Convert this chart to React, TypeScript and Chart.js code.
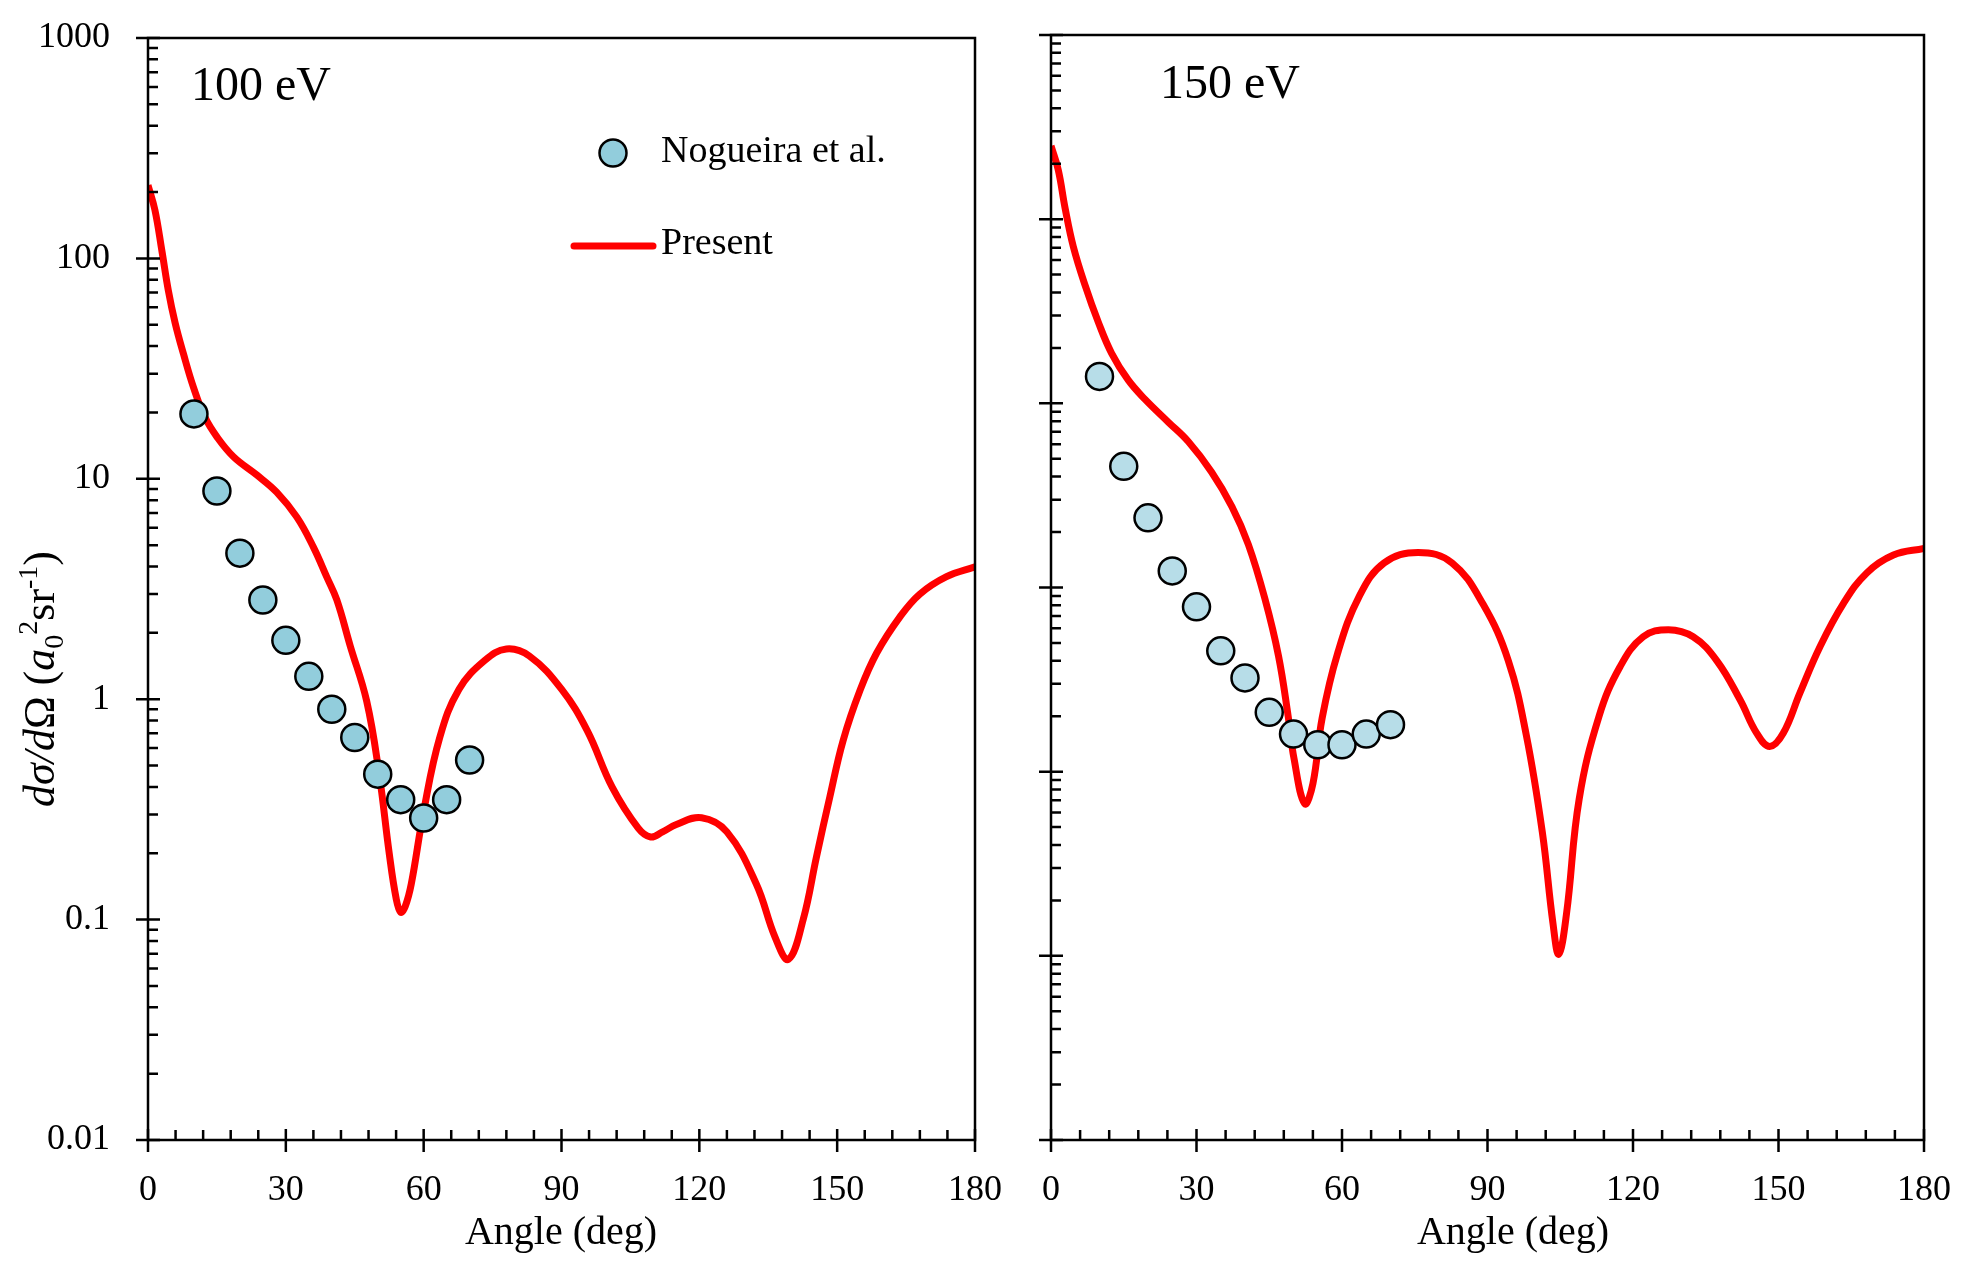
import React, { useEffect, useRef } from 'react';
import { Chart, registerables } from 'chart.js';

Chart.register(...registerables);

const FONT = "'Liberation Serif', 'Times New Roman', serif";
const PAGE_W = 1971;
const PAGE_H = 1280;

// x axis
const angleTicks = [0, 30, 60, 90, 120, 150, 180];

// 100 eV panel
const yTicks100 = [0.01, 0.1, 1, 10, 100, 1000];
const yTickLabels100 = ['0.01', '0.1', '1', '10', '100', '1000'];
const expAngles100 = [10, 15, 20, 25, 30, 35, 40, 45, 50, 55, 60, 65, 70];
const expValues100 = [19.7, 8.8, 4.6, 2.82, 1.85, 1.27, 0.9, 0.67, 0.457, 0.35, 0.289, 0.35, 0.53];
const calcAngles100 = [
  0, 1.5, 3, 4.4, 5.9, 7.7, 9.9, 12.4, 15, 18.6, 23.7, 28, 32.4, 36, 38.9, 41.1, 44, 47.6, 50.3, 52.5,
  54, 55, 56, 57.3, 60, 63.5, 67.7, 73.3, 78, 83, 90, 95.6, 101, 106.7, 109.4, 112, 115, 120.5, 126,
  132.4, 136.5, 139.4, 142.6, 145.5, 148.4, 151.3, 155, 158.6, 163.7, 168, 173.8, 180,
];
const calcValues100 = [
  215, 166, 109, 72, 51, 37, 26, 19, 15.5, 12.6, 10.4, 8.7, 6.7, 4.9, 3.59, 2.82, 1.75, 0.98, 0.46, 0.2,
  0.125, 0.108, 0.115, 0.145, 0.31, 0.67, 1.11, 1.5, 1.69, 1.57, 1.11, 0.72, 0.4, 0.26, 0.237, 0.25, 0.27, 0.29, 0.25,
  0.145, 0.083, 0.066, 0.1, 0.193, 0.36, 0.65, 1.1, 1.62, 2.37, 3.0, 3.6, 3.99,
];

// 150 eV panel
const yTicks150 = [0.001, 0.01, 0.1, 1, 10, 100, 1000];
const yTickLabels150 = ['', '', '', '', '', '', ''];
const expAngles150 = [10, 15, 20, 25, 30, 35, 40, 45, 50, 55, 60, 65, 70];
const expValues150 = [14.0, 4.55, 2.39, 1.23, 0.785, 0.453, 0.323, 0.21, 0.16, 0.14, 0.14, 0.16, 0.18];
const calcAngles150 = [
  0, 1.5, 2.9, 4.6, 7, 9.8, 12.5, 15.9, 19.4, 24.2, 28.3, 33.1, 37.3, 40.7, 44.1, 46.9, 48.9, 50.1, 52.3,
  54, 55.9, 59.1, 63.6, 68.7, 75.7, 82.7, 89.1, 94.3, 98, 101.3, 103.5, 104.7, 106.3, 108.9, 113, 117.3,
  122.1, 127.3, 132.4, 137.3, 142.1, 145.5, 148.2, 151, 154.4, 158.6, 163.4, 168.2, 173.7, 180,
];
const calcValues150 = [
  250, 185, 115, 71, 44, 27.4, 18.7, 13.4, 10.5, 7.9, 6.2, 4.24, 2.75, 1.71, 0.87, 0.426, 0.2, 0.118, 0.067,
  0.086, 0.195, 0.44, 0.9, 1.36, 1.55, 1.36, 0.81, 0.4, 0.158, 0.047, 0.015, 0.0102, 0.017, 0.071, 0.2, 0.37,
  0.54, 0.59, 0.54, 0.4, 0.245, 0.162, 0.137, 0.162, 0.267, 0.48, 0.82, 1.2, 1.5, 1.63,
];

type Part = { t: string; italic?: boolean; small?: boolean; dy?: number };

const yTitleParts: Part[] = [
  { t: 'd', italic: true },
  { t: 'σ', italic: true },
  { t: '/', italic: true },
  { t: 'd', italic: true },
  { t: 'Ω' },
  { t: ' (' },
  { t: 'a', italic: true },
  { t: '0', small: true, dy: 9 },
  { t: '2', small: true, dy: -17 },
  { t: 'sr' },
  { t: '-1', small: true, dy: -17 },
  { t: ')' },
];

const partFont = (p: Part) => `${p.italic ? 'italic ' : ''}${p.small ? 28 : 44}px ${FONT}`;

const framePlugin = {
  id: 'frame',
  afterDatasetsDraw(chart: any, _args: any, opts: any) {
    const { ctx, chartArea: a } = chart;
    const xs = chart.scales.x;
    const ys = chart.scales.y;
    ctx.save();
    ctx.strokeStyle = '#000';
    ctx.lineWidth = 2.5;
    ctx.strokeRect(a.left, a.top, a.right - a.left, a.bottom - a.top);

    ctx.beginPath();
    const lo = Math.round(Math.log10(ys.min));
    const hi = Math.round(Math.log10(ys.max));
    for (let p = lo; p <= hi; p++) {
      for (let m = 1; m <= 9; m++) {
        if (p === hi && m > 1) break;
        const py = ys.getPixelForValue(m * Math.pow(10, p));
        ctx.moveTo(m === 1 ? a.left - 12 : a.left, py);
        ctx.lineTo(a.left + (m === 1 ? 12 : 10), py);
      }
    }
    for (let ang = xs.min; ang <= xs.max; ang += 6) {
      const px = xs.getPixelForValue(ang);
      const major = ang % 30 === 0;
      ctx.moveTo(px, major ? a.bottom + 12 : a.bottom);
      ctx.lineTo(px, a.bottom - (major ? 11 : 10));
    }
    ctx.stroke();

    ctx.fillStyle = '#000';
    ctx.textBaseline = 'alphabetic';
    ctx.textAlign = 'left';
    ctx.font = `48px ${FONT}`;
    ctx.fillText(opts.energy, opts.energyX, opts.energyY);

    ctx.textAlign = 'center';
    ctx.font = `40px ${FONT}`;
    ctx.fillText('Angle (deg)', opts.titleX, 1244);

    if (opts.legend) {
      ctx.beginPath();
      ctx.arc(613, 153, 13.5, 0, Math.PI * 2);
      ctx.fillStyle = opts.dotColor;
      ctx.fill();
      ctx.lineWidth = 2.5;
      ctx.stroke();
      ctx.beginPath();
      ctx.strokeStyle = '#ff0000';
      ctx.lineWidth = 7;
      ctx.lineCap = 'round';
      ctx.moveTo(574, 246);
      ctx.lineTo(653, 246);
      ctx.stroke();
      ctx.fillStyle = '#000';
      ctx.textAlign = 'left';
      ctx.textBaseline = 'middle';
      ctx.font = `38px ${FONT}`;
      ctx.fillText('Nogueira et al.', 661, 152);
      ctx.fillText('Present', 661, 244);
    }

    if (opts.yTitle) {
      ctx.translate(54, 679);
      ctx.rotate(-Math.PI / 2);
      ctx.textAlign = 'left';
      ctx.textBaseline = 'alphabetic';
      let total = 0;
      for (const p of yTitleParts) {
        ctx.font = partFont(p);
        total += ctx.measureText(p.t).width;
      }
      let cx = -total / 2;
      for (const p of yTitleParts) {
        ctx.font = partFont(p);
        ctx.fillText(p.t, cx, p.dy || 0);
        cx += ctx.measureText(p.t).width;
      }
    }
    ctx.restore();
  },
};

// keep the plot box exactly where the layout padding puts it
const noLabelPadding = (s: any) => {
  s.paddingLeft = 0;
  s.paddingRight = 0;
  s.paddingTop = 0;
  s.paddingBottom = 0;
};

type PanelProps = {
  left: number;
  width: number;
  area: { left: number; top: number; right: number; bottom: number };
  yTicks: number[];
  yTickLabels: string[];
  showYLabels: boolean;
  energy: string;
  energyX: number;
  energyY: number;
  titleX: number;
  legend: boolean;
  yTitle: boolean;
  expAngles: number[];
  expValues: number[];
  calcAngles: number[];
  calcValues: number[];
  dotColor: string;
};

const Panel = (props: PanelProps) => {
  const canvasRef = useRef<HTMLCanvasElement | null>(null);

  useEffect(() => {
    if (!canvasRef.current) return;
    const { area, width, yTicks, yTickLabels } = props;
    const chart = new Chart(canvasRef.current, {
      type: 'line',
      data: {
        datasets: [
          {
            label: 'Nogueira et al.',
            data: props.expAngles.map((x, i) => ({ x, y: props.expValues[i] })),
            showLine: false,
            pointRadius: 13.5,
            pointHoverRadius: 13.5,
            pointBackgroundColor: props.dotColor,
            pointBorderColor: '#000',
            pointBorderWidth: 2.5,
            borderColor: '#000',
            backgroundColor: props.dotColor,
          },
          {
            label: 'Present',
            data: props.calcAngles.map((x, i) => ({ x, y: props.calcValues[i] })),
            borderColor: '#ff0000',
            borderWidth: 7,
            pointRadius: 0,
            tension: 0.4,
            borderJoinStyle: 'round',
            fill: false,
          },
        ],
      },
      options: {
        animation: false,
        responsive: false,
        devicePixelRatio: 1,
        events: [],
        layout: { padding: { left: 0, top: area.top, right: width - area.right, bottom: 0 } },
        plugins: {
          legend: { display: false },
          tooltip: { enabled: false },
          frame: {
            energy: props.energy,
            energyX: props.energyX,
            energyY: props.energyY,
            titleX: props.titleX,
            legend: props.legend,
            yTitle: props.yTitle,
            dotColor: props.dotColor,
          },
        } as any,
        scales: {
          x: {
            type: 'linear',
            min: 0,
            max: 180,
            afterFit: (s: any) => {
              s.height = PAGE_H - area.bottom;
              noLabelPadding(s);
            },
            afterBuildTicks: (s: any) => { s.ticks = angleTicks.map((v) => ({ value: v })); },
            grid: { display: false, drawTicks: false },
            border: { display: false },
            ticks: {
              autoSkip: false,
              maxRotation: 0,
              padding: 29,
              color: '#000',
              font: { family: FONT, size: 36 },
            },
          },
          y: {
            type: 'logarithmic',
            min: yTicks[0],
            max: yTicks[yTicks.length - 1],
            afterFit: (s: any) => {
              s.width = area.left;
              noLabelPadding(s);
            },
            afterBuildTicks: (s: any) => { s.ticks = yTicks.map((v) => ({ value: v })); },
            grid: { display: false, drawTicks: false },
            border: { display: false },
            ticks: {
              display: props.showYLabels,
              autoSkip: false,
              padding: 38,
              color: '#000',
              font: { family: FONT, size: 36 },
              callback: (_v: any, i: number) => yTickLabels[i],
            },
          },
        },
      } as any,
      plugins: [framePlugin],
    });
    return () => chart.destroy();
  }, []);

  return (
    <canvas
      ref={canvasRef}
      width={props.width}
      height={PAGE_H}
      style={{ position: 'absolute', left: props.left, top: 0, width: props.width, height: PAGE_H, display: 'block' }}
    />
  );
};

export default function App() {
  return (
    <div style={{ position: 'absolute', left: 0, top: 0, width: PAGE_W, height: PAGE_H, background: '#fff', overflow: 'hidden' }}>
      <Panel
        left={0}
        width={1015}
        area={{ left: 148, top: 38, right: 975, bottom: 1140 }}
        yTicks={yTicks100}
        yTickLabels={yTickLabels100}
        showYLabels={true}
        energy="100 eV"
        energyX={191}
        energyY={100}
        titleX={561}
        legend={true}
        yTitle={true}
        expAngles={expAngles100}
        expValues={expValues100}
        calcAngles={calcAngles100}
        calcValues={calcValues100}
        dotColor="#92CDDC"
      />
      <Panel
        left={1015}
        width={956}
        area={{ left: 36, top: 35, right: 909, bottom: 1140 }}
        yTicks={yTicks150}
        yTickLabels={yTickLabels150}
        showYLabels={false}
        energy="150 eV"
        energyX={145}
        energyY={98}
        titleX={498}
        legend={false}
        yTitle={false}
        expAngles={expAngles150}
        expValues={expValues150}
        calcAngles={calcAngles150}
        calcValues={calcValues150}
        dotColor="#B7DDE8"
      />
    </div>
  );
}
